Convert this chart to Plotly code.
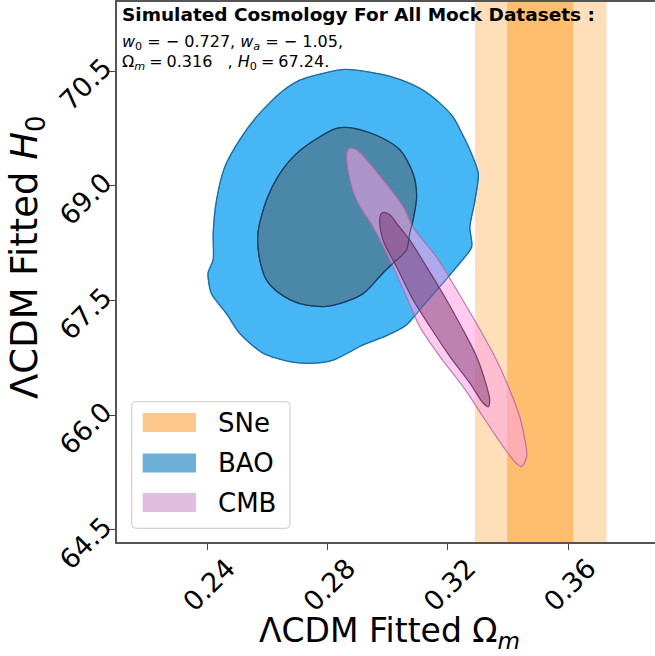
import plotly.graph_objects as go

# ---------------- data ----------------
omega_ticks = [0.24, 0.28, 0.32, 0.36]
omega_tick_labels = ["0.24", "0.28", "0.32", "0.36"]
h0_ticks = [64.5, 66.0, 67.5, 69.0, 70.5]
h0_tick_labels = ["64.5", "66.0", "67.5", "69.0", "70.5"]

# SNe constraint on Omega_m (68% and 95% bands)
sne_band_68 = [0.3397, 0.3617]
sne_band_95 = [0.3290, 0.3728]

# BAO contours (Omega_m, H0)
bao_95_om = [0.2857, 0.2962, 0.3040, 0.3117, 0.3173, 0.3217, 0.3246, 0.3273,
             0.3301, 0.3290, 0.3273, 0.3279, 0.3229, 0.3173, 0.3117, 0.3062,
             0.2996, 0.2918, 0.2818, 0.2751, 0.2674, 0.2585, 0.2507, 0.2463,
             0.2413, 0.2402, 0.2419, 0.2419, 0.2430, 0.2458, 0.2507, 0.2563,
             0.2641, 0.2707, 0.2785]
bao_95_h0 = [70.52, 70.47, 70.39, 70.25, 70.08, 69.90, 69.69, 69.47,
             69.16, 68.81, 68.46, 68.20, 67.94, 67.68, 67.43, 67.18,
             67.04, 66.92, 66.72, 66.68, 66.70, 66.81, 67.07, 67.33,
             67.59, 67.86, 68.03, 68.38, 68.81, 69.25, 69.60, 69.90,
             70.21, 70.38, 70.47]
bao_68_om = [0.2874, 0.2962, 0.3040, 0.3084, 0.3096, 0.3084, 0.3073, 0.3062,
             0.3018, 0.2984, 0.2918, 0.2840, 0.2785, 0.2707, 0.2641, 0.2596,
             0.2574, 0.2568, 0.2596, 0.2641, 0.2696, 0.2774, 0.2829]
bao_68_h0 = [69.76, 69.66, 69.47, 69.16, 68.86, 68.55, 68.38, 68.16,
             67.99, 67.86, 67.59, 67.46, 67.42, 67.46, 67.59, 67.77,
             68.03, 68.38, 68.81, 69.16, 69.42, 69.64, 69.75]

# CMB contours (Omega_m, H0)
cmb_95_om = [0.2874, 0.2896, 0.2929, 0.2984, 0.3051, 0.3084, 0.3162, 0.3229,
             0.3295, 0.3362, 0.3406, 0.3439, 0.3456, 0.3462, 0.3445, 0.3428,
             0.3384, 0.3317, 0.3251, 0.3173, 0.3106, 0.3062, 0.3007, 0.2951,
             0.2896, 0.2874, 0.2863, 0.2864]
cmb_95_h0 = [69.49, 69.47, 69.34, 69.08, 68.73, 68.46, 68.07, 67.64,
             67.20, 66.72, 66.33, 65.98, 65.68, 65.46, 65.33, 65.37,
             65.59, 65.98, 66.37, 66.77, 67.16, 67.55, 68.03, 68.46,
             68.81, 69.08, 69.34, 69.44]
cmb_68_om = [0.2984, 0.3007, 0.3029, 0.3073, 0.3129, 0.3195, 0.3251, 0.3295,
             0.3323, 0.3339, 0.3334, 0.3317, 0.3273, 0.3206, 0.3140, 0.3084,
             0.3029, 0.2984, 0.2973, 0.2977]
cmb_68_h0 = [68.65, 68.62, 68.51, 68.29, 67.94, 67.51, 67.11, 66.77,
             66.46, 66.20, 66.11, 66.16, 66.42, 66.77, 67.16, 67.51,
             67.94, 68.29, 68.55, 68.63]

legend_labels = ["SNe", "BAO", "CMB"]
legend_colors = ["#fdc88c", "#6baed6", "#e2bde2"]

# ---------------- geometry ----------------
W, H = 655, 656
L, R, T, B = 117, 0, 2, 114
PW, PH = W - L - R, H - T - B
FONT = "DejaVu Sans"


def px(xp):
    """pixel x -> paper x"""
    return (xp - L) / PW


def py(yp):
    """pixel y (from top) -> paper y"""
    return (H - B - yp) / PH


fig = go.Figure()

# SNe bands
fig.add_shape(type="rect", xref="x", yref="paper", x0=sne_band_95[0], x1=sne_band_95[1],
              y0=0, y1=1, fillcolor="#fedfba", line_width=0, layer="below")
fig.add_shape(type="rect", xref="x", yref="paper", x0=sne_band_68[0], x1=sne_band_68[1],
              y0=0, y1=1, fillcolor="#febd6f", line_width=0, layer="below")


def closed(a):
    return list(a) + [a[0]]


def region(xs, ys, fill, edge, width, smooth=0.9):
    fig.add_trace(go.Scatter(
        x=closed(xs), y=closed(ys), mode="lines", fill="toself",
        fillcolor=fill, line=dict(color=edge, width=width, shape="spline", smoothing=smooth),
        hoverinfo="skip", showlegend=False))


def outline(xs, ys, edge, width, smooth=0.9):
    fig.add_trace(go.Scatter(
        x=closed(xs), y=closed(ys), mode="lines",
        line=dict(color=edge, width=width, shape="spline", smoothing=smooth),
        hoverinfo="skip", showlegend=False))


# BAO
region(bao_95_om, bao_95_h0, "#47b6f5", "#1f6ea3", 1.3, 0.7)
region(bao_68_om, bao_68_h0, "#4a87a9", "#173f5e", 1.3, 0.8)
# CMB
region(cmb_95_om, cmb_95_h0, "rgba(255,160,230,0.55)", "rgba(175,105,165,0.85)", 1.2)
region(cmb_68_om, cmb_68_h0, "rgba(110,40,100,0.45)", "rgba(100,45,95,0.85)", 1.2)
# BAO edges seen through the CMB fill
outline(bao_95_om, bao_95_h0, "rgba(31,110,163,0.6)", 1.1, 0.7)
outline(bao_68_om, bao_68_h0, "rgba(23,63,94,0.6)", 1.1, 0.8)

axis_common = dict(
    ticks="outside", ticklen=6, tickwidth=1.3, tickcolor="#444",
    showline=True, linecolor="#555", linewidth=1.5,
    showgrid=False, zeroline=False,
    tickfont=dict(family=FONT, size=27, color="black"),
    tickangle=-45,
)
fig.update_xaxes(range=[0.2099, 0.3889], tickvals=omega_ticks, ticktext=omega_tick_labels,
                 mirror=True, ticklabelshift=20, ticklabelstandoff=-8, **axis_common)
fig.update_yaxes(range=[64.343, 71.402], tickvals=h0_ticks, ticktext=h0_tick_labels,
                 ticklabelshift=-7, **axis_common)

annotations = []
# axis titles
annotations.append(dict(text="ΛCDM Fitted Ω<sub><i>m</i></sub>", xref="paper", yref="paper",
                        x=px(389), y=py(632), xanchor="center", yanchor="middle",
                        showarrow=False, font=dict(family=FONT, size=33, color="black")))
annotations.append(dict(text="ΛCDM Fitted <i>H</i><sub>0</sub>", xref="paper", yref="paper",
                        x=px(27), y=py(257), xanchor="center", yanchor="middle", textangle=-90,
                        showarrow=False, font=dict(family=FONT, size=37, color="black")))
# header text
annotations.append(dict(text="<b>Simulated Cosmology For All Mock Datasets :</b>",
                        xref="paper", yref="paper", x=px(120), y=py(15),
                        xanchor="left", yanchor="middle", showarrow=False,
                        font=dict(family=FONT, size=18.5, color="black")))
annotations.append(dict(text="<i>w</i><sub>0</sub> = − 0.727, <i>w</i><sub><i>a</i></sub> = − 1.05,",
                        xref="paper", yref="paper", x=px(120), y=py(42),
                        xanchor="left", yanchor="middle", showarrow=False,
                        font=dict(family=FONT, size=16, color="black")))
annotations.append(dict(text="Ω<sub><i>m</i></sub>\u2005=\u20050.316\u00a0\u00a0\u00a0, <i>H</i><sub>0</sub>\u2005=\u200567.24.",
                        xref="paper", yref="paper", x=px(120), y=py(62),
                        xanchor="left", yanchor="middle", showarrow=False,
                        font=dict(family=FONT, size=16, color="black")))

# legend frame
lx0, lx1, ly0, ly1, rr = 131.7, 290.0, 401.7, 528.3, 5.0
path = (f"M {px(lx0 + rr)},{py(ly0)} L {px(lx1 - rr)},{py(ly0)} "
        f"Q {px(lx1)},{py(ly0)} {px(lx1)},{py(ly0 + rr)} "
        f"L {px(lx1)},{py(ly1 - rr)} Q {px(lx1)},{py(ly1)} {px(lx1 - rr)},{py(ly1)} "
        f"L {px(lx0 + rr)},{py(ly1)} Q {px(lx0)},{py(ly1)} {px(lx0)},{py(ly1 - rr)} "
        f"L {px(lx0)},{py(ly0 + rr)} Q {px(lx0)},{py(ly0)} {px(lx0 + rr)},{py(ly0)} Z")
fig.add_shape(type="path", xref="paper", yref="paper", path=path,
              fillcolor="rgba(255,255,255,0.8)", line=dict(color="#d3d3d3", width=1.2))

row_centers = [422.5, 463.0, 502.5]
for lab, col, yc in zip(legend_labels, legend_colors, row_centers):
    fig.add_shape(type="rect", xref="paper", yref="paper",
                  x0=px(142.7), x1=px(196.0), y0=py(yc + 9.5), y1=py(yc - 9.5),
                  fillcolor=col, line_width=0)
    annotations.append(dict(text=lab, xref="paper", yref="paper", x=px(216), y=py(yc),
                            xanchor="left", yanchor="middle", showarrow=False,
                            font=dict(family=FONT, size=26, color="black")))

fig.update_layout(
    width=W, height=H,
    margin=dict(l=L, r=R, t=T, b=B, pad=0),
    paper_bgcolor="white", plot_bgcolor="white",
    showlegend=False,
    annotations=annotations,
)

fig.write_html("out.html")
